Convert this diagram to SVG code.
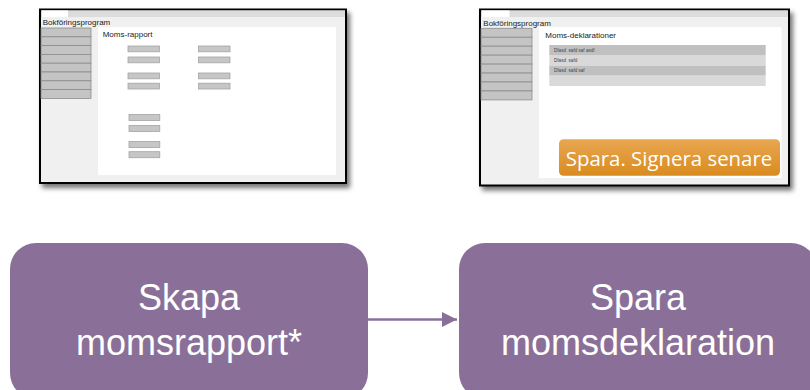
<svg xmlns="http://www.w3.org/2000/svg" width="810" height="390" viewBox="0 0 810 390">
<defs>
<filter id="shadow" x="-10%" y="-10%" width="125%" height="130%">
<feDropShadow dx="3" dy="4" stdDeviation="2.5" flood-color="#000" flood-opacity="0.55"/>
</filter>
<linearGradient id="orange" x1="0" y1="0" x2="0" y2="1">
<stop offset="0" stop-color="#e9a751"/>
<stop offset="1" stop-color="#d98b1e"/>
</linearGradient>
<marker id="arrow" markerWidth="15" markerHeight="15" refX="15" refY="7.5" orient="auto" markerUnits="userSpaceOnUse">
<path d="M0,0 L15,7.5 L0,15 Z" fill="#8a7098"/>
</marker>
</defs>
<style>
.frame{fill:#f0f0f0;stroke:#000;stroke-width:2}
.topband{fill:#dcdcdc}
.tab{fill:#fff}
.side{fill:#c4c4c4;stroke:#8c8c8c;stroke-width:0.8}
.content{fill:#fff}
.field{fill:#c6c6c6;stroke:#a3a3a3;stroke-width:0.8}
.small{font-family:"Liberation Sans",Arial,sans-serif;font-size:8px;fill:#222}
.tiny{font-family:"Liberation Sans",Arial,sans-serif;font-size:4.6px;fill:#444}
.rowd{fill:#c0c0c0}
.rowl{fill:#d9d9d9}
.node{fill:#8a7098}
.ntext{font-family:"Liberation Sans",Arial,sans-serif;font-size:36px;fill:#fff;text-anchor:middle}
.btntext{font-family:"Open Sans","Noto Sans",sans-serif;font-size:20.4px;fill:#fff;text-anchor:middle}
</style>

<g id="screen-rapport">
<rect class="frame" x="40" y="9.5" width="306" height="173.5" filter="url(#shadow)"/>
<rect class="topband" x="41" y="10.5" width="304" height="6.5"/>
<rect class="tab" x="42" y="10.5" width="26" height="6.5"/>
<rect class="content" x="98" y="27" width="238" height="148"/>
<g>
<rect class="side" x="41" y="28" width="50" height="8.8"/>
<rect class="side" x="41" y="36.8" width="50" height="8.8"/>
<rect class="side" x="41" y="45.6" width="50" height="8.8"/>
<rect class="side" x="41" y="54.4" width="50" height="8.8"/>
<rect class="side" x="41" y="63.2" width="50" height="8.8"/>
<rect class="side" x="41" y="72" width="50" height="8.8"/>
<rect class="side" x="41" y="80.8" width="50" height="8.8"/>
<rect class="side" x="41" y="89.6" width="50" height="8.8"/>
</g>
<text class="small" x="42.7" y="25">Bokföringsprogram</text>
<text class="small" x="102.7" y="37.3">Moms-rapport</text>
<rect class="field" x="128" y="46" width="31.5" height="5.8"/>
<rect class="field" x="128" y="57" width="31.5" height="5.8"/>
<rect class="field" x="128" y="73" width="31.5" height="5.8"/>
<rect class="field" x="128" y="83.2" width="31.5" height="5.8"/>
<rect class="field" x="198.5" y="46" width="31.5" height="5.8"/>
<rect class="field" x="198.5" y="57" width="31.5" height="5.8"/>
<rect class="field" x="198.5" y="73" width="31.5" height="5.8"/>
<rect class="field" x="198.5" y="83.2" width="31.5" height="5.8"/>
<rect class="field" x="129" y="114.5" width="30.8" height="6"/>
<rect class="field" x="129" y="125.5" width="30.8" height="6"/>
<rect class="field" x="129" y="141.5" width="30.8" height="6"/>
<rect class="field" x="129" y="151.7" width="30.8" height="6"/>
</g>

<g id="screen-deklaration">
<rect class="frame" x="480" y="9.5" width="309" height="176" filter="url(#shadow)"/>
<rect class="topband" x="481" y="10.5" width="307" height="6.5"/>
<rect class="tab" x="482" y="10.5" width="27.5" height="6.5"/>
<rect class="content" x="539" y="27" width="242.5" height="151"/>
<g>
<rect class="side" x="481" y="28.3" width="51" height="8.95"/>
<rect class="side" x="481" y="37.25" width="51" height="8.95"/>
<rect class="side" x="481" y="46.2" width="51" height="8.95"/>
<rect class="side" x="481" y="55.15" width="51" height="8.95"/>
<rect class="side" x="481" y="64.1" width="51" height="8.95"/>
<rect class="side" x="481" y="73.05" width="51" height="8.95"/>
<rect class="side" x="481" y="82" width="51" height="8.95"/>
<rect class="side" x="481" y="90.95" width="51" height="8.95"/>
</g>
<text class="small" x="483.3" y="25.5">Bokföringsprogram</text>
<text class="small" x="545.3" y="37.6">Moms-deklarationer</text>
<rect class="rowd" x="549.3" y="45" width="216.4" height="10"/>
<rect class="rowl" x="549.3" y="55" width="216.4" height="10.7"/>
<rect class="rowd" x="549.3" y="65.7" width="216.4" height="10"/>
<rect class="rowl" x="549.3" y="75.7" width="216.4" height="10.3"/>
<text class="tiny" x="554" y="51.6" xml:space="preserve">Dfasd  safd saf asdf</text>
<text class="tiny" x="554" y="62.3" xml:space="preserve">Dfasd  safd</text>
<text class="tiny" x="554" y="72.4" xml:space="preserve">Dfasd  safd saf</text>
<rect x="559" y="139.3" width="221" height="36.4" rx="4.5" fill="url(#orange)"/>
<text class="btntext" x="669" y="165.7">Spara. Signera senare</text>
</g>

<g id="node-skapa">
<rect class="node" x="10" y="243" width="358" height="156" rx="26"/>
<text class="ntext" x="189" y="310">Skapa</text>
<text class="ntext" x="189" y="355">momsrapport*</text>
</g>

<g id="node-spara">
<rect class="node" x="459" y="243" width="358" height="156" rx="26"/>
<text class="ntext" x="638" y="310">Spara</text>
<text class="ntext" x="638" y="355">momsdeklaration</text>
</g>

<g id="connectors">
<line x1="368" y1="319.5" x2="457" y2="319.5" stroke="#8a7098" stroke-width="2.5" marker-end="url(#arrow)"/>
</g>
</svg>
